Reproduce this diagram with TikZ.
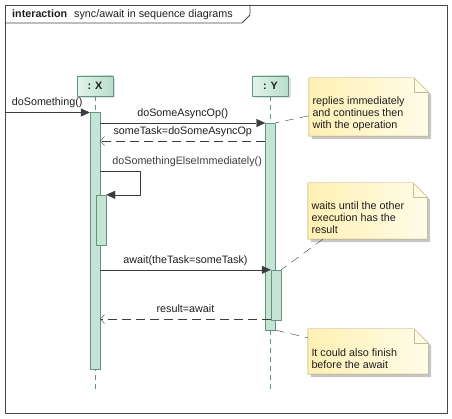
\documentclass[tikz,border=0pt]{standalone}
\usepackage{fontspec}
\setmainfont{Liberation Sans}
\usetikzlibrary{positioning,shadows,arrows.meta}
\definecolor{framecol}{RGB}{70,70,70}
\definecolor{actfill}{RGB}{197,228,213}
\definecolor{actline}{RGB}{96,150,126}
\definecolor{headleft}{RGB}{226,243,235}
\definecolor{headright}{RGB}{184,221,203}
\definecolor{notefill}{RGB}{255,240,180}
\definecolor{notelight}{RGB}{255,252,232}
\definecolor{noteline}{RGB}{178,156,96}
\definecolor{msgcol}{RGB}{60,60,60}
\definecolor{textcol}{RGB}{30,30,30}
% note with folded corner and shadow
\newcommand{\notebox}[1]{%
  \fill[black!22] ([shift={(3bp,-3bp)}]#1.south west) -- ([shift={(3bp,-3bp)}]#1.north west)
    -- ([shift={(-11bp,-3bp)}]#1.north east) -- ([shift={(3bp,-17bp)}]#1.north east)
    -- ([shift={(3bp,-3bp)}]#1.south east) -- cycle;
  \draw[noteline,left color=notefill,right color=notelight] (#1.south west) -- (#1.north west)
    -- ([xshift=-14bp]#1.north east) -- ([yshift=-14bp]#1.north east) -- (#1.south east) -- cycle;
  \draw[noteline!70] ([xshift=-14bp]#1.north east) -- ([shift={(-14bp,-14bp)}]#1.north east)
    -- ([yshift=-14bp]#1.north east);
}
\begin{document}
\begin{tikzpicture}[>={Triangle[length=9bp,width=8bp]},line join=bevel,
  font=\fontsize{10.8}{12}\selectfont,text=textcol,
  head/.style={draw=actline,left color=headleft,right color=headright,inner sep=0pt,
    minimum width=36bp,minimum height=20bp,font=\fontsize{10.8}{12}\selectfont\bfseries,
    drop shadow={shadow xshift=2bp,shadow yshift=-2bp,fill=black!25}},
  act/.style={draw=actline,fill=actfill,inner sep=0pt,minimum width=10bp},
  lifeline/.style={actline,dash pattern=on 5bp off 4bp},
  call/.style={msgcol,->},
  reply/.style={msgcol,dash pattern=on 9bp off 5bp,-{Straight Barb[length=4bp,width=9bp]}},
  msg/.style={midway,anchor=base,yshift=6.5bp,inner sep=0pt,text=textcol},
  notetext/.style={anchor=north west,inner sep=0pt,align=left},
  notelink/.style={msgcol,dash pattern=on 9bp off 6bp},
]
\useasboundingbox (0,0) rectangle (452bp,419bp);
%%
\node (frame) at (226bp,210bp) [draw=framecol,line width=0.9bp,inner sep=0pt,minimum width=442bp,minimum height=408bp] {};
\draw [framecol,line width=0.9bp] (frame.west |- 0,396bp) -- (242bp,396bp) -- (250bp,404bp) -- (frame.north -| 250bp,0);
\node (title) at (12bp,401bp) [anchor=base west,inner sep=0pt] {\textbf{interaction}\hspace{7bp}sync/await in sequence diagrams};
%
\node (node_x) at (95bp,333bp) [head] {: X};
\node (node_y) at (270.5bp,333bp) [head] {: Y};
\coordinate (end_x) at (95bp,27bp);
\coordinate (end_y) at (270.5bp,27bp);
\draw [lifeline] (node_x.south) -- (end_x);
\draw [lifeline] (node_y.south) -- (end_y);
\node (act_x) at (95bp,178.5bp) [act,minimum height=257bp] {};
\node (act_x2) at (101bp,199bp) [act,minimum height=50bp] {};
\node (act_y) at (270.5bp,192.5bp) [act,minimum height=207bp] {};
\node (act_y2) at (276bp,124bp) [act,minimum height=50bp] {};
%
\coordinate (row_0) at (0,306.5bp);
\coordinate (row_1) at (0,296bp);
\coordinate (row_2) at (0,278bp);
\coordinate (row_3) at (0,248bp);
\coordinate (row_5) at (0,100bp);
\draw [call] (frame.west |- row_0) -- node[msg] {doSomething()} (act_x.west |- row_0);
\draw [call] (act_x.east |- row_1) -- node[msg] {doSomeAsyncOp()} (act_y.west |- row_1);
\draw [reply] (act_y.west |- row_2) -- node[msg] {someTask=doSomeAsyncOp} (act_x.east |- row_2);
\draw [call] (act_x.east |- row_3) -- node[pos=0,anchor=base west,xshift=12bp,yshift=6.5bp,inner sep=0pt] {doSomethingElseImmediately()} ++(40bp,0) |- (act_x2.north east);
\draw [call] (act_x.east |- act_y2.north) -- node[msg] {await(theTask=someTask)} (act_y2.north west);
\draw [reply] (act_y2.west |- row_5) -- node[msg] {result=await} (act_x.east |- row_5);
%
\node (note_0) at (368.5bp,312bp) [inner sep=0pt,minimum width=119bp,minimum height=58bp] {};
\node (note_1) at (367.5bp,208bp) [inner sep=0pt,minimum width=119bp,minimum height=56bp] {};
\node (note_2) at (368bp,67.5bp) [inner sep=0pt,minimum width=120bp,minimum height=45bp] {};
\notebox{note_0}
\notebox{note_1}
\notebox{note_2}
\node (text_0) at ([shift={(3.5bp,-19bp)}]note_0.north west) [notetext] {replies immediately\\and continues then\\with the operation};
\node (text_1) at ([shift={(3.5bp,-19bp)}]note_1.north west) [notetext] {waits until the other\\execution has the\\result};
\node (text_2) at ([shift={(3.5bp,-20bp)}]note_2.north west) [notetext] {It could also finish\\before the await};
\draw [notelink] ([yshift=-38bp]note_0.north west) -- (act_y.north east);
\draw [notelink] ([xshift=15bp]note_1.south west) -- (act_y2.north east);
\draw [notelink] (act_y.south east) -- ([yshift=-9bp]note_2.north west);
%
\end{tikzpicture}
\end{document}
